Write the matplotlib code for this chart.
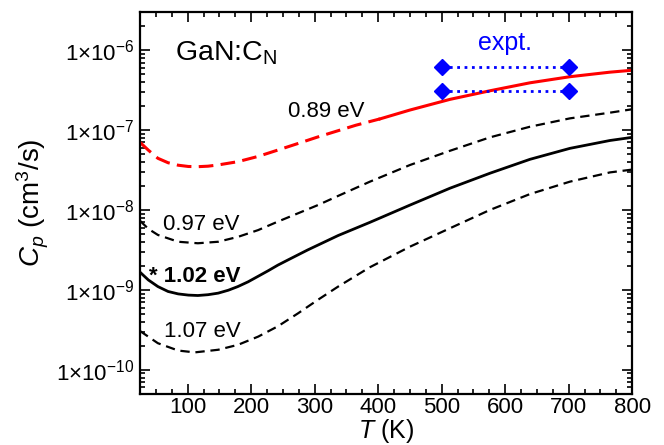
import numpy as np
import matplotlib
matplotlib.use("Agg")
import matplotlib.pyplot as plt
from matplotlib.ticker import MultipleLocator, LogLocator, FuncFormatter, NullFormatter

plt.rcParams['font.family'] = ['Liberation Sans', 'DejaVu Sans']
plt.rcParams['mathtext.fontset'] = 'custom'
plt.rcParams['mathtext.rm'] = 'Liberation Sans'
plt.rcParams['mathtext.it'] = 'Liberation Sans:italic'
plt.rcParams['mathtext.bf'] = 'Liberation Sans:bold'

# C_p (cm^3/s) vs T (K)
T_089 = [25, 38, 53, 69, 85, 101, 116, 132, 148, 179, 211, 242, 274, 305, 332, 365, 403,
         450, 513, 576, 639, 702, 765, 800]
cp_089 = [7.0e-8, 5.6e-8, 4.43e-8, 3.9e-8, 3.63e-8, 3.5e-8, 3.48e-8, 3.53e-8, 3.66e-8,
          4.02e-8, 4.68e-8, 5.62e-8, 6.8e-8, 8.2e-8, 9.55e-8, 1.15e-7, 1.38e-7,
          1.78e-7, 2.42e-7, 3.1e-7, 3.9e-7, 4.65e-7, 5.3e-7, 5.6e-7]
T_split = 403  # 0.89 eV curve dashed below, solid above

T_097 = [25, 38, 53, 85, 116, 148, 179, 211, 242, 274, 305, 337, 387, 450, 513, 576, 639,
         702, 765, 800]
cp_097 = [7.3e-9, 5.8e-9, 4.87e-9, 4.0e-9, 3.83e-9, 4.0e-9, 4.6e-9, 5.6e-9, 7.15e-9, 9.1e-9,
          1.15e-8, 1.5e-8, 2.26e-8, 3.65e-8, 5.5e-8, 8.1e-8, 1.1e-7, 1.4e-7, 1.65e-7, 1.82e-7]

T_102 = [25, 38, 53, 69, 85, 101, 116, 132, 148, 164, 179, 195, 211, 227, 242, 258, 274,
         289, 305, 321, 337, 387, 450, 513, 576, 639, 702, 765, 800]
cp_102 = [1.66e-9, 1.33e-9, 1.1e-9, 9.55e-10, 8.9e-10, 8.6e-10, 8.5e-10, 8.7e-10, 9.1e-10,
          9.9e-10, 1.1e-9, 1.26e-9, 1.48e-9, 1.74e-9, 2.04e-9, 2.37e-9, 2.75e-9,
          3.16e-9, 3.63e-9, 4.17e-9, 4.79e-9, 7.0e-9, 1.15e-8, 1.87e-8, 2.88e-8, 4.3e-8,
          5.9e-8, 7.4e-8, 8.1e-8]

T_107 = [25, 53, 85, 111, 148, 179, 211, 242, 274, 305, 337, 387, 450, 513, 576, 639, 702,
         765, 800]
cp_107 = [3.05e-10, 2.15e-10, 1.74e-10, 1.65e-10, 1.78e-10, 2.05e-10, 2.6e-10, 3.5e-10,
          5.1e-10, 7.5e-10, 1.1e-9, 1.92e-9, 3.47e-9, 5.9e-9, 1.0e-8, 1.58e-8, 2.26e-8,
          2.95e-8, 3.2e-8]

# experiment: range between two bounds at 500 K and 700 K
T_expt = [500, 700]
cp_expt_hi = [6.1e-7, 6.1e-7]
cp_expt_lo = [3.07e-7, 3.07e-7]

yticks = [1e-10, 1e-9, 1e-8, 1e-7, 1e-6]

fig = plt.figure(figsize=(6.64, 4.45), dpi=100)
ax = fig.add_axes([0.211, 0.115, 0.741, 0.858])

T_089 = np.array(T_089)
cp_089 = np.array(cp_089)
lo = T_089 <= T_split
hi = T_089 >= T_split
ax.plot(T_089[lo], cp_089[lo], color='red', lw=2.2, linestyle=(0, (4.8, 2.4)))
ax.plot(T_089[hi], cp_089[hi], color='red', lw=2.2)

ax.plot(T_097, cp_097, color='black', lw=1.6, linestyle=(0, (4.2, 2.6)))
ax.plot(T_102, cp_102, color='black', lw=2.0)
ax.plot(T_107, cp_107, color='black', lw=1.6, linestyle=(0, (4.2, 2.6)))

for cp in (cp_expt_hi, cp_expt_lo):
    ax.plot(T_expt, cp, color='blue', lw=2, linestyle=':', marker='D', ms=8.5)

ax.set_yscale('log')
ax.set_xlim(25, 800)
ax.set_ylim(5e-11, 3e-6)

ax.xaxis.set_major_locator(MultipleLocator(100))
ax.xaxis.set_minor_locator(MultipleLocator(25))
ax.set_yticks(yticks)
ax.yaxis.set_minor_locator(LogLocator(base=10, subs=np.arange(2, 10), numticks=20))
ax.yaxis.set_minor_formatter(NullFormatter())
ax.yaxis.set_major_formatter(FuncFormatter(
    lambda v, p: r'$1{\times}10^{%d}$' % int(round(np.log10(v)))))

ax.tick_params(which='both', direction='in', top=True, right=True, labelsize=16, width=1.2)
ax.tick_params(which='major', length=7)
ax.tick_params(axis='x', which='major', pad=2)
ax.tick_params(axis='y', which='major', pad=4)
ax.tick_params(which='minor', length=3.5)
for s in ax.spines.values():
    s.set_linewidth(1.6)

ax.set_xlabel(r'$T$ (K)', fontsize=18)
ax.xaxis.set_label_coords(0.5, -0.06)
ax.set_ylabel(r'$C_p$ (cm$^3$/s)', fontsize=20, labelpad=4)

ax.text(0.071, 0.874, r'GaN:C$_\mathrm{N}$', transform=ax.transAxes, fontsize=20.5)
ax.text(0.301, 0.726, '0.89 eV', transform=ax.transAxes, fontsize=16)
ax.text(0.047, 0.429, '0.97 eV', transform=ax.transAxes, fontsize=16)
ax.text(0.018, 0.294, '* 1.02 eV', transform=ax.transAxes, fontsize=16, fontweight='bold')
ax.text(0.049, 0.15, '1.07 eV', transform=ax.transAxes, fontsize=16)
ax.text(0.742, 0.9, 'expt.', transform=ax.transAxes, fontsize=18, ha='center', color='blue')

fig.savefig('out.png', dpi=100)
